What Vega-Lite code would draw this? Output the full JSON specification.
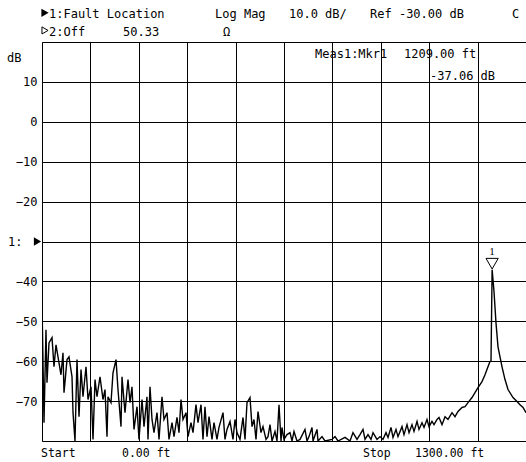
{
  "$schema": "https://vega.github.io/schema/vega-lite/v6.json",
  "width": 484,
  "height": 399,
  "autosize": "none",
  "padding": {"left": 42, "top": 42, "right": 0, "bottom": 21},
  "background": "white",
  "config": {
    "view": {"stroke": "black", "strokeWidth": 1},
    "text": {"font": "DejaVu Sans Mono", "fontSize": 12, "color": "black"}
  },
  "datasets": {
    "trace": [
      {"d":0,"v":-45.1},{"d":5.4,"v":-75.4},{"d":10.7,"v":-52.1},{"d":13.4,"v":-65.4},{"d":18.8,"v":-55.4},
      {"d":26.9,"v":-54.1},{"d":32.2,"v":-61.4},{"d":37.6,"v":-55.9},{"d":43.0,"v":-58.9},{"d":51.0,"v":-63.4},
      {"d":56.4,"v":-57.9},{"d":59.1,"v":-67.9},{"d":67.2,"v":-59.6},{"d":72.5,"v":-58.9},{"d":80.6,"v":-63.9},
      {"d":83.3,"v":-72.9},{"d":88.6,"v":-80},{"d":94.0,"v":-59.6},{"d":99.4,"v":-73.9},{"d":104.8,"v":-62.1},
      {"d":110.1,"v":-68.9},{"d":118.2,"v":-61.4},{"d":123.6,"v":-69.6},{"d":131.6,"v":-66.4},{"d":137.0,"v":-79.6},
      {"d":142.4,"v":-64.6},{"d":147.7,"v":-68.9},{"d":155.8,"v":-63.9},{"d":163.8,"v":-69.6},{"d":169.2,"v":-67.1},
      {"d":174.6,"v":-78.9},{"d":177.3,"v":-68.9},{"d":185.3,"v":-70.4},{"d":190.7,"v":-62.9},{"d":198.8,"v":-59.6},
      {"d":204.1,"v":-67.1},{"d":212.2,"v":-76.4},{"d":214.9,"v":-63.9},{"d":222.9,"v":-72.9},{"d":231.0,"v":-64.6},
      {"d":236.4,"v":-70.4},{"d":241.7,"v":-66.4},{"d":247.1,"v":-77.1},{"d":255.2,"v":-71.4},{"d":260.5,"v":-79.6},
      {"d":268.6,"v":-69.6},{"d":274.0,"v":-76.4},{"d":282.0,"v":-68.9},{"d":284.7,"v":-79.6},{"d":290.1,"v":-66.4},
      {"d":295.5,"v":-74.6},{"d":300.8,"v":-77.9},{"d":308.9,"v":-72.9},{"d":314.3,"v":-79.6},{"d":322.3,"v":-68.9},
      {"d":327.7,"v":-74.6},{"d":335.8,"v":-72.9},{"d":341.1,"v":-79.6},{"d":349.2,"v":-75.4},{"d":354.6,"v":-78.9},
      {"d":362.6,"v":-74.1},{"d":368.0,"v":-77.9},{"d":373.4,"v":-69.6},{"d":378.7,"v":-74.6},{"d":386.8,"v":-72.9},
      {"d":392.2,"v":-78.9},{"d":400.2,"v":-75.4},{"d":405.6,"v":-77.9},{"d":413.6,"v":-70.9},{"d":419.0,"v":-75.4},
      {"d":427.1,"v":-70.9},{"d":432.4,"v":-79.6},{"d":437.8,"v":-71.4},{"d":443.2,"v":-78.9},{"d":448.6,"v":-73.9},
      {"d":456.6,"v":-79.6},{"d":462.0,"v":-75.4},{"d":470.0,"v":-79.6},{"d":475.4,"v":-76.6},{"d":486.2,"v":-72.9},
      {"d":491.5,"v":-79.6},{"d":496.9,"v":-77.1},{"d":505.0,"v":-75.1},{"d":513.0,"v":-79.6},{"d":518.4,"v":-74.6},
      {"d":523.8,"v":-77.9},{"d":531.8,"v":-79.6},{"d":539.9,"v":-74.1},{"d":545.3,"v":-79.6},{"d":550.6,"v":-70.4},
      {"d":558.7,"v":-69.1},{"d":564.1,"v":-76.4},{"d":569.4,"v":-74.6},{"d":574.8,"v":-79.6},{"d":580.2,"v":-72.6},
      {"d":588.2,"v":-77.9},{"d":593.6,"v":-76.4},{"d":601.7,"v":-79.6},{"d":607.0,"v":-78.9},{"d":612.4,"v":-75.9},
      {"d":617.8,"v":-80},{"d":625.8,"v":-77.6},{"d":631.2,"v":-80},{"d":636.6,"v":-70.9},{"d":642.0,"v":-80},
      {"d":644.6,"v":-76.6},{"d":650.0,"v":-79.6},{"d":658.1,"v":-78.4},{"d":666.1,"v":-77.9},{"d":671.5,"v":-80},
      {"d":676.9,"v":-77.6},{"d":684.9,"v":-80},{"d":693.0,"v":-79.6},{"d":706.4,"v":-77.1},{"d":711.8,"v":-80},
      {"d":717.2,"v":-78.9},{"d":725.2,"v":-76.6},{"d":727.9,"v":-80},{"d":738.7,"v":-77.1},{"d":741.3,"v":-80},
      {"d":752.1,"v":-78.9},{"d":760.1,"v":-80},{"d":778.9,"v":-79.6},{"d":787.0,"v":-78.9},{"d":795.1,"v":-80},
      {"d":813.9,"v":-79.1},{"d":827.3,"v":-80},{"d":835.3,"v":-77.9},{"d":846.1,"v":-79.6},{"d":854.1,"v":-78.4},
      {"d":862.2,"v":-77.1},{"d":867.6,"v":-79.6},{"d":875.6,"v":-78.4},{"d":883.7,"v":-79.6},{"d":889.1,"v":-77.9},
      {"d":899.8,"v":-79.6},{"d":907.9,"v":-78.9},{"d":915.9,"v":-79.6},{"d":924.0,"v":-77.9},{"d":929.4,"v":-79.1},
      {"d":937.4,"v":-76.6},{"d":942.8,"v":-79.1},{"d":950.8,"v":-77.1},{"d":956.2,"v":-78.9},{"d":967.0,"v":-76.4},
      {"d":972.3,"v":-78.4},{"d":980.4,"v":-75.9},{"d":985.8,"v":-77.9},{"d":993.8,"v":-75.9},{"d":999.2,"v":-77.6},
      {"d":1007.3,"v":-75.1},{"d":1012.6,"v":-77.1},{"d":1020.7,"v":-75.4},{"d":1026.1,"v":-76.6},{"d":1034.1,"v":-74.6},
      {"d":1039.5,"v":-76.4},{"d":1047.5,"v":-75.1},{"d":1052.9,"v":-75.9},{"d":1061.0,"v":-74.6},{"d":1066.3,"v":-74.1},
      {"d":1074.4,"v":-75.9},{"d":1082.5,"v":-73.9},{"d":1090.5,"v":-74.6},{"d":1101.3,"v":-72.9},{"d":1109.3,"v":-73.9},
      {"d":1117.4,"v":-72.6},{"d":1128.1,"v":-71.6},{"d":1136.2,"v":-71.4},{"d":1144.2,"v":-70.4},{"d":1155.0,"v":-69.1},
      {"d":1163.0,"v":-67.9},{"d":1171.1,"v":-66.6},{"d":1181.8,"v":-65.1},{"d":1189.9,"v":-63.4},{"d":1197.9,"v":-61.4},
      {"d":1203.3,"v":-60.1},{"d":1206.0,"v":-60.0},{"d":1209.0,"v":-37.06},{"d":1214.1,"v":-42.6},{"d":1219.4,"v":-50.4},
      {"d":1224.8,"v":-56.4},{"d":1235.6,"v":-61.4},{"d":1243.6,"v":-64.6},{"d":1251.7,"v":-67.1},{"d":1265.1,"v":-69.1},
      {"d":1275.9,"v":-70.1},{"d":1283.9,"v":-70.9},{"d":1292.0,"v":-71.6},{"d":1300.0,"v":-72.9}
    ],
    "labels": [
      {"d":18.8,"v":26.9,"t":"1:Fault Location"},
      {"d":464.7,"v":26.9,"t":"Log Mag"},
      {"d":663.4,"v":26.9,"t":"10.0 dB/"},
      {"d":881.0,"v":26.9,"t":"Ref -30.00 dB"},
      {"d":1262.4,"v":26.9,"t":"C"},
      {"d":18.8,"v":22.6,"t":"2:Off"},
      {"d":217.6,"v":22.6,"t":"50.33"},
      {"d":486.2,"v":22.6,"t":"Ω"},
      {"d":-94.0,"v":15.9,"t":"dB"},
      {"d":-91.3,"v":-30,"t":"1:"},
      {"d":733.3,"v":17.1,"t":"Meas1:Mkr1"},
      {"d":972.3,"v":17.1,"t":"1209.00 ft"},
      {"d":1042.2,"v":11.6,"t":"-37.06 dB"}
    ],
    "footer": [
      {"d":-2.7,"v":-83.2,"t":"Start"},
      {"d":214.9,"v":-83.2,"t":"0.00 ft"},
      {"d":862.2,"v":-83.2,"t":"Stop"},
      {"d":1001.9,"v":-83.2,"t":"1300.00 ft"}
    ],
    "filledTri": [
      {"d":8.1,"v":27.3},
      {"d":-12.1,"v":-30}
    ],
    "openTri": [
      {"d":8.1,"v":22.9}
    ],
    "marker": [
      {"d":1209.0,"v":-37.06,"n":"1"}
    ]
  },
  "encoding": {
    "x": {"field": "d", "type": "quantitative", "scale": {"domain": [0, 1300], "nice": false, "zero": false}},
    "y": {"field": "v", "type": "quantitative", "scale": {"domain": [-80, 20], "nice": false, "zero": false}}
  },
  "layer": [
    {
      "data": {"name": "trace"},
      "mark": {"type": "line", "color": "black", "strokeWidth": 1.4, "clip": true},
      "encoding": {
        "x": {"field": "d", "type": "quantitative", "title": null,
          "axis": {"values": [0,130,260,390,520,650,780,910,1040,1170,1300], "labels": false, "ticks": false, "domain": false,
            "grid": true, "gridColor": "black", "gridOpacity": 1, "gridWidth": 1}},
        "y": {"field": "v", "type": "quantitative", "title": null,
          "axis": {"values": [10,0,-10,-20,-30,-40,-50,-60,-70], "ticks": false, "domain": false,
            "grid": true, "gridColor": "black", "gridOpacity": 1, "gridWidth": 1,
            "labelExpr": "datum.value == -30 ? '' : datum.label",
            "labelFont": "DejaVu Sans Mono", "labelFontSize": 12, "labelColor": "black", "labelPadding": 5}}
      }
    },
    {
      "data": {"name": "labels"},
      "mark": {"type": "text", "align": "left", "baseline": "middle", "color": "black", "font": "DejaVu Sans Mono", "fontSize": 12},
      "encoding": {"text": {"field": "t"}}
    },
    {
      "data": {"name": "footer"},
      "mark": {"type": "text", "align": "left", "baseline": "middle", "color": "black", "font": "DejaVu Sans Mono", "fontSize": 11.5},
      "encoding": {"text": {"field": "t"}}
    },
    {
      "data": {"name": "filledTri"},
      "mark": {"type": "point", "shape": "triangle-right", "filled": true, "color": "black", "size": 70, "opacity": 1}
    },
    {
      "data": {"name": "openTri"},
      "mark": {"type": "point", "shape": "triangle-right", "filled": false, "color": "black", "size": 50, "strokeWidth": 1, "opacity": 1}
    },
    {
      "data": {"name": "marker"},
      "mark": {"type": "point", "shape": "triangle-down", "filled": false, "color": "black", "size": 150, "strokeWidth": 1, "yOffset": -6, "opacity": 1}
    },
    {
      "data": {"name": "marker"},
      "mark": {"type": "text", "font": "Liberation Serif", "fontSize": 11, "yOffset": -18, "baseline": "middle", "align": "center", "color": "black"},
      "encoding": {"text": {"field": "n"}}
    }
  ]
}
